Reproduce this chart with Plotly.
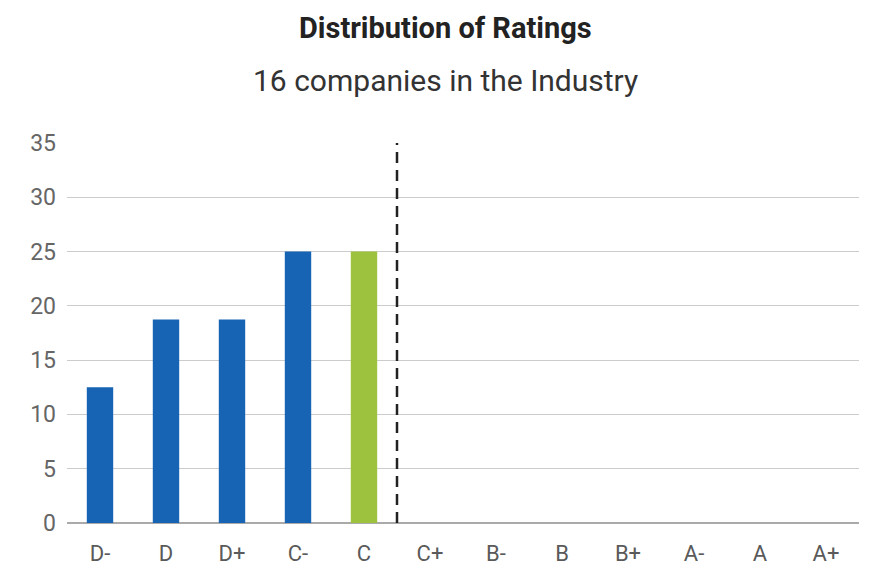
import plotly.graph_objects as go

categories = ["D-", "D", "D+", "C-", "C", "C+", "B-", "B", "B+", "A-", "A", "A+"]
values = [12.5, 18.75, 18.75, 25, 25, 0, 0, 0, 0, 0, 0, 0]
highlight = "C"
title_text = "Distribution of Ratings"
subtitle_text = "16 companies in the Industry"
y_ticks = [0, 5, 10, 15, 20, 25, 30, 35]

blue = "#1764b5"
green = "#9dc23e"
colors = [green if c == highlight else blue for c in categories]

# page body has an 8px default margin; figure sized so plot area lands at x 67..859, y 143..523
W, H = 861, 561
L, R, T, B = 59, 10, 135, 46
plot_h = H - T - B

fig = go.Figure()
fig.add_trace(go.Bar(x=categories, y=values, marker=dict(color=colors, line=dict(width=0)),
                     width=0.4, hoverinfo="x+y"))

fig.add_shape(type="line", xref="x", yref="paper", x0=4.5, x1=4.5, y0=0, y1=1,
              line=dict(color="#222222", width=2.5, dash="11px,7px"))

fig.update_layout(
    width=W, height=H,
    margin=dict(l=L, r=R, t=T, b=B),
    paper_bgcolor="white", plot_bgcolor="white",
    font=dict(family="Roboto", color="#666666", size=22),
    showlegend=False,
    annotations=[
        dict(text="<b>" + title_text + "</b>", xref="paper", yref="paper",
             x=0.4785, y=1 + (143 - 28) / plot_h, xanchor="center", yanchor="middle",
             showarrow=False, font=dict(family="Roboto", size=29, color="#222222")),
        dict(text=subtitle_text, xref="paper", yref="paper",
             x=0.4785, y=1 + (143 - 80) / plot_h, xanchor="center", yanchor="middle",
             showarrow=False, font=dict(family="Roboto", size=30, color="#333333")),
    ],
)
fig.update_xaxes(type="category", categoryorder="array", categoryarray=categories,
                 showgrid=False, showline=False, ticks="", ticklabelstandoff=15, automargin=False,
                 tickfont=dict(size=22, color="#5a5a5a"))
fig.update_yaxes(range=[0, 35], tickvals=y_ticks, showgrid=True, gridcolor="#cccccc", gridwidth=1,
                 zeroline=True, zerolinecolor="#aaaaaa", zerolinewidth=2, showline=False,
                 automargin=False, ticks="", ticklabelstandoff=10, tickfont=dict(size=23, color="#666666"))

fig.write_html("out.html")
